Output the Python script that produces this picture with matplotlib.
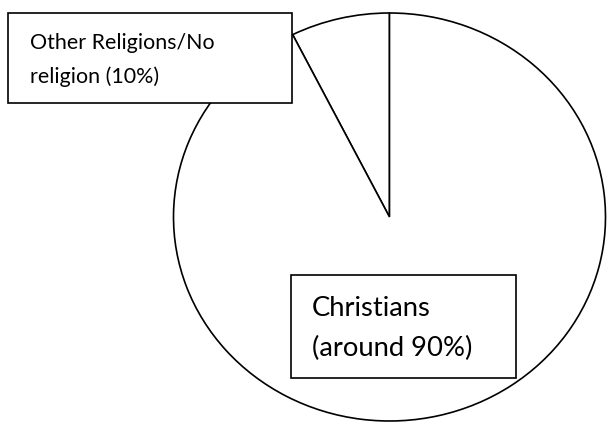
import matplotlib
matplotlib.use("Agg")
import matplotlib.pyplot as plt
from matplotlib.patches import Rectangle

# Data (slice shares as drawn in the picture; labels as written)
categories = ["Other Religions/No\nreligion (10%)", "Christians\n(around 90%)"]
shares = [7.4, 92.6]

W, H = 608, 423
fig = plt.figure(figsize=(W / 100, H / 100), dpi=100)
ax = fig.add_axes([0, 0, 1, 1])

ax.pie(shares, startangle=90, counterclock=True,
       colors=["white", "white"],
       wedgeprops=dict(edgecolor="black", linewidth=1.2))

# ellipse geometry in pixels
cx, cy, rx, ry = 389.5, 217, 216, 204
ax.set_aspect("auto")
ax.set_xlim((0 - cx) / rx, (W - cx) / rx)
ax.set_ylim(-(H - cy) / ry, cy / ry)
ax.axis("off")

def fx(px):
    return px / W

def fy(py):
    return 1 - py / H

def box(x0, y0, x1, y1):
    r = Rectangle((fx(x0), fy(y1)), fx(x1) - fx(x0), fy(y0) - fy(y1),
                  transform=fig.transFigure, facecolor="white",
                  edgecolor="black", linewidth=1.2, zorder=5)
    fig.add_artist(r)

box(8, 13, 292, 103)
box(291, 275, 516, 378)

font = ["Lato", "DejaVu Sans"]
l1, l2 = categories[0].split("\n")
fig.text(fx(30), fy(49), l1, fontsize=15.4, family=font, zorder=6, va="baseline")
fig.text(fx(30), fy(83), l2, fontsize=15.4, family=font, zorder=6, va="baseline")
c1, c2 = categories[1].split("\n")
fig.text(fx(312), fy(316), c1, fontsize=19.7, family=font, zorder=6, va="baseline")
fig.text(fx(312), fy(356), c2, fontsize=19.7, family=font, zorder=6, va="baseline")

fig.savefig("out.png", dpi=100, facecolor="white")
